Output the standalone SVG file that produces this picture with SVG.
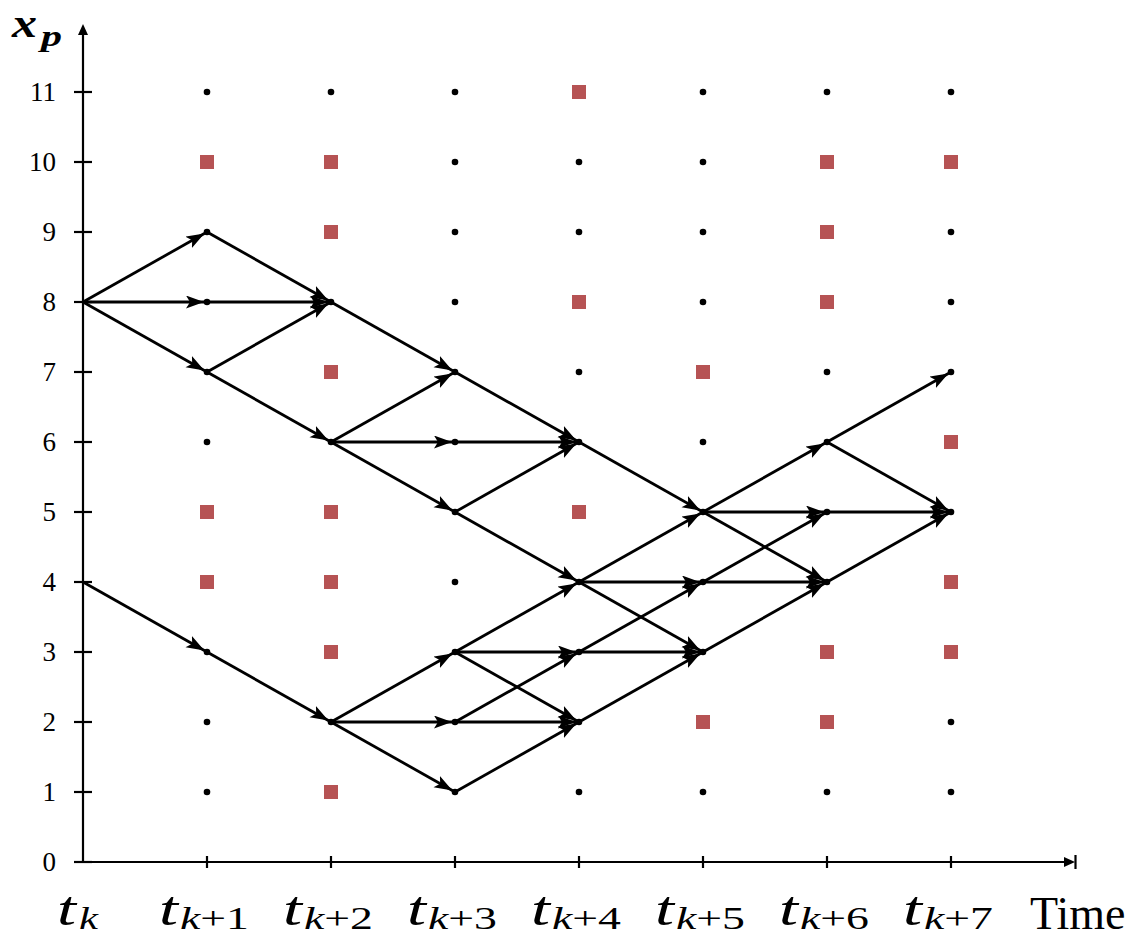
<svg xmlns="http://www.w3.org/2000/svg" width="1143" height="941" viewBox="0 0 1143 941">
<style>
.ax{stroke:#000;stroke-width:2.2;fill:none}
.e{stroke:#000;stroke-width:2.8;fill:none;marker-end:url(#ah)}
.d{fill:#000}
.o{fill:#b65354}
.yl{font-family:"Liberation Serif",serif;font-size:27px;text-anchor:end;fill:#000}
.tm{font-family:"Liberation Serif",serif;font-style:italic;font-size:49px;fill:#000}
.ts{font-family:"Liberation Serif",serif;font-style:italic;font-size:31px;fill:#000}
.tn{font-family:"Liberation Serif",serif;font-style:normal}
</style>
<defs>
<marker id="ah" markerUnits="userSpaceOnUse" markerWidth="24" markerHeight="16" refX="21" refY="6.5" orient="auto">
<path d="M0,0 L18,6.5 L0,13 L4,6.5 Z" fill="#000"/>
</marker>
</defs>
<g id="axes">
<line class="ax" x1="83" y1="862" x2="83" y2="32"/>
<path d="M83,24 L88,35 L78,35 Z" fill="#000"/>
<line class="ax" x1="83" y1="862" x2="1068" y2="862"/>
<path d="M1075,862 L1064,857 L1064,867 Z" fill="#000"/>
<line class="ax" x1="1075.5" y1="855" x2="1075.5" y2="869"/>
<g id="yticks" stroke="#000" stroke-width="2.2">
<line x1="74" y1="862" x2="92" y2="862"/><line x1="74" y1="792" x2="92" y2="792"/><line x1="74" y1="722" x2="92" y2="722"/><line x1="74" y1="652" x2="92" y2="652"/><line x1="74" y1="582" x2="92" y2="582"/><line x1="74" y1="512" x2="92" y2="512"/><line x1="74" y1="442" x2="92" y2="442"/><line x1="74" y1="372" x2="92" y2="372"/><line x1="74" y1="302" x2="92" y2="302"/><line x1="74" y1="232" x2="92" y2="232"/><line x1="74" y1="162" x2="92" y2="162"/><line x1="74" y1="92" x2="92" y2="92"/>
</g>
<g id="xticks" stroke="#000" stroke-width="2.2">
<line x1="207" y1="856" x2="207" y2="868"/><line x1="331" y1="856" x2="331" y2="868"/><line x1="455" y1="856" x2="455" y2="868"/><line x1="579" y1="856" x2="579" y2="868"/><line x1="703" y1="856" x2="703" y2="868"/><line x1="827" y1="856" x2="827" y2="868"/><line x1="951" y1="856" x2="951" y2="868"/>
</g>
<g id="ylabels">
<text class="yl" x="56" y="871">0</text><text class="yl" x="56" y="801">1</text><text class="yl" x="56" y="731">2</text><text class="yl" x="56" y="661">3</text><text class="yl" x="56" y="591">4</text><text class="yl" x="56" y="521">5</text><text class="yl" x="56" y="451">6</text><text class="yl" x="56" y="381">7</text><text class="yl" x="56" y="311">8</text><text class="yl" x="56" y="241">9</text><text class="yl" x="56" y="171">10</text><text class="yl" x="56" y="101">11</text>
</g>
<g id="ytitle">
<text x="12" y="37" font-family="Liberation Serif, serif" font-style="italic" font-weight="bold" font-size="42" textLength="25" lengthAdjust="spacingAndGlyphs">x</text>
<text x="41" y="46" font-family="Liberation Serif, serif" font-style="italic" font-weight="bold" font-size="30" textLength="21" lengthAdjust="spacingAndGlyphs">p</text>
</g>
<g id="xlabels">
<text class="tm" x="57" y="925" textLength="19" lengthAdjust="spacingAndGlyphs">t</text><text class="ts" x="79" y="929" textLength="19" lengthAdjust="spacingAndGlyphs">k</text>
<text class="tm" x="159" y="925" textLength="19" lengthAdjust="spacingAndGlyphs">t</text><text class="ts" x="180" y="929" textLength="69" lengthAdjust="spacingAndGlyphs">k<tspan class="tn">+1</tspan></text>
<text class="tm" x="283" y="925" textLength="19" lengthAdjust="spacingAndGlyphs">t</text><text class="ts" x="304" y="929" textLength="69" lengthAdjust="spacingAndGlyphs">k<tspan class="tn">+2</tspan></text>
<text class="tm" x="407" y="925" textLength="19" lengthAdjust="spacingAndGlyphs">t</text><text class="ts" x="428" y="929" textLength="69" lengthAdjust="spacingAndGlyphs">k<tspan class="tn">+3</tspan></text>
<text class="tm" x="531" y="925" textLength="19" lengthAdjust="spacingAndGlyphs">t</text><text class="ts" x="552" y="929" textLength="69" lengthAdjust="spacingAndGlyphs">k<tspan class="tn">+4</tspan></text>
<text class="tm" x="655" y="925" textLength="19" lengthAdjust="spacingAndGlyphs">t</text><text class="ts" x="676" y="929" textLength="69" lengthAdjust="spacingAndGlyphs">k<tspan class="tn">+5</tspan></text>
<text class="tm" x="779" y="925" textLength="19" lengthAdjust="spacingAndGlyphs">t</text><text class="ts" x="800" y="929" textLength="69" lengthAdjust="spacingAndGlyphs">k<tspan class="tn">+6</tspan></text>
<text class="tm" x="903" y="925" textLength="19" lengthAdjust="spacingAndGlyphs">t</text><text class="ts" x="924" y="929" textLength="69" lengthAdjust="spacingAndGlyphs">k<tspan class="tn">+7</tspan></text>
<text x="1030" y="929" font-family="Liberation Serif, serif" font-size="46">Time</text>
</g>
</g>
<g id="connectors">
<line class="e" x1="83" y1="302" x2="207" y2="232"/>
<line class="e" x1="83" y1="302" x2="207" y2="302"/>
<line class="e" x1="83" y1="302" x2="207" y2="372"/>
<line class="e" x1="207" y1="232" x2="331" y2="302"/>
<line class="e" x1="207" y1="302" x2="331" y2="302"/>
<line class="e" x1="207" y1="372" x2="331" y2="302"/>
<line class="e" x1="207" y1="372" x2="331" y2="442"/>
<line class="e" x1="331" y1="302" x2="455" y2="372"/>
<line class="e" x1="331" y1="442" x2="455" y2="372"/>
<line class="e" x1="331" y1="442" x2="455" y2="442"/>
<line class="e" x1="331" y1="442" x2="455" y2="512"/>
<line class="e" x1="455" y1="372" x2="579" y2="442"/>
<line class="e" x1="455" y1="442" x2="579" y2="442"/>
<line class="e" x1="455" y1="512" x2="579" y2="442"/>
<line class="e" x1="455" y1="512" x2="579" y2="582"/>
<line class="e" x1="579" y1="442" x2="703" y2="512"/>
<line class="e" x1="83" y1="582" x2="207" y2="652"/>
<line class="e" x1="207" y1="652" x2="331" y2="722"/>
<line class="e" x1="331" y1="722" x2="455" y2="652"/>
<line class="e" x1="331" y1="722" x2="455" y2="722"/>
<line class="e" x1="331" y1="722" x2="455" y2="792"/>
<line class="e" x1="455" y1="652" x2="579" y2="582"/>
<line class="e" x1="455" y1="652" x2="579" y2="652"/>
<line class="e" x1="455" y1="652" x2="579" y2="722"/>
<line class="e" x1="455" y1="722" x2="579" y2="652"/>
<line class="e" x1="455" y1="722" x2="579" y2="722"/>
<line class="e" x1="455" y1="792" x2="579" y2="722"/>
<line class="e" x1="579" y1="582" x2="703" y2="512"/>
<line class="e" x1="579" y1="582" x2="703" y2="582"/>
<line class="e" x1="579" y1="582" x2="703" y2="652"/>
<line class="e" x1="579" y1="652" x2="703" y2="582"/>
<line class="e" x1="579" y1="652" x2="703" y2="652"/>
<line class="e" x1="579" y1="722" x2="703" y2="652"/>
<line class="e" x1="703" y1="512" x2="827" y2="442"/>
<line class="e" x1="703" y1="512" x2="827" y2="512"/>
<line class="e" x1="703" y1="512" x2="827" y2="582"/>
<line class="e" x1="703" y1="582" x2="827" y2="512"/>
<line class="e" x1="703" y1="582" x2="827" y2="582"/>
<line class="e" x1="703" y1="652" x2="827" y2="582"/>
<line class="e" x1="827" y1="442" x2="951" y2="372"/>
<line class="e" x1="827" y1="442" x2="951" y2="512"/>
<line class="e" x1="827" y1="512" x2="951" y2="512"/>
<line class="e" x1="827" y1="582" x2="951" y2="512"/>
</g>
<g id="nodes">
<g id="c1">
<g id="n1_11"><circle class="d" cx="207" cy="92" r="3.3"/></g>
<g id="n1_10"><rect class="o" x="200" y="155" width="14" height="14"/></g>
<g id="n1_9"><circle class="d" cx="207" cy="232" r="3.3"/></g>
<g id="n1_8"><circle class="d" cx="207" cy="302" r="3.3"/></g>
<g id="n1_7"><circle class="d" cx="207" cy="372" r="3.3"/></g>
<g id="n1_6"><circle class="d" cx="207" cy="442" r="3.3"/></g>
<g id="n1_5"><rect class="o" x="200" y="505" width="14" height="14"/></g>
<g id="n1_4"><rect class="o" x="200" y="575" width="14" height="14"/></g>
<g id="n1_3"><circle class="d" cx="207" cy="652" r="3.3"/></g>
<g id="n1_2"><circle class="d" cx="207" cy="722" r="3.3"/></g>
<g id="n1_1"><circle class="d" cx="207" cy="792" r="3.3"/></g>
</g>
<g id="c2">
<g id="n2_11"><circle class="d" cx="331" cy="92" r="3.3"/></g>
<g id="n2_10"><rect class="o" x="324" y="155" width="14" height="14"/></g>
<g id="n2_9"><rect class="o" x="324" y="225" width="14" height="14"/></g>
<g id="n2_8"><circle class="d" cx="331" cy="302" r="3.3"/></g>
<g id="n2_7"><rect class="o" x="324" y="365" width="14" height="14"/></g>
<g id="n2_6"><circle class="d" cx="331" cy="442" r="3.3"/></g>
<g id="n2_5"><rect class="o" x="324" y="505" width="14" height="14"/></g>
<g id="n2_4"><rect class="o" x="324" y="575" width="14" height="14"/></g>
<g id="n2_3"><rect class="o" x="324" y="645" width="14" height="14"/></g>
<g id="n2_2"><circle class="d" cx="331" cy="722" r="3.3"/></g>
<g id="n2_1"><rect class="o" x="324" y="785" width="14" height="14"/></g>
</g>
<g id="c3">
<g id="n3_11"><circle class="d" cx="455" cy="92" r="3.3"/></g>
<g id="n3_10"><circle class="d" cx="455" cy="162" r="3.3"/></g>
<g id="n3_9"><circle class="d" cx="455" cy="232" r="3.3"/></g>
<g id="n3_8"><circle class="d" cx="455" cy="302" r="3.3"/></g>
<g id="n3_7"><circle class="d" cx="455" cy="372" r="3.3"/></g>
<g id="n3_6"><circle class="d" cx="455" cy="442" r="3.3"/></g>
<g id="n3_5"><circle class="d" cx="455" cy="512" r="3.3"/></g>
<g id="n3_4"><circle class="d" cx="455" cy="582" r="3.3"/></g>
<g id="n3_3"><circle class="d" cx="455" cy="652" r="3.3"/></g>
<g id="n3_2"><circle class="d" cx="455" cy="722" r="3.3"/></g>
<g id="n3_1"><circle class="d" cx="455" cy="792" r="3.3"/></g>
</g>
<g id="c4">
<g id="n4_11"><rect class="o" x="572" y="85" width="14" height="14"/></g>
<g id="n4_10"><circle class="d" cx="579" cy="162" r="3.3"/></g>
<g id="n4_9"><circle class="d" cx="579" cy="232" r="3.3"/></g>
<g id="n4_8"><rect class="o" x="572" y="295" width="14" height="14"/></g>
<g id="n4_7"><circle class="d" cx="579" cy="372" r="3.3"/></g>
<g id="n4_6"><circle class="d" cx="579" cy="442" r="3.3"/></g>
<g id="n4_5"><rect class="o" x="572" y="505" width="14" height="14"/></g>
<g id="n4_4"><circle class="d" cx="579" cy="582" r="3.3"/></g>
<g id="n4_3"><circle class="d" cx="579" cy="652" r="3.3"/></g>
<g id="n4_2"><circle class="d" cx="579" cy="722" r="3.3"/></g>
<g id="n4_1"><circle class="d" cx="579" cy="792" r="3.3"/></g>
</g>
<g id="c5">
<g id="n5_11"><circle class="d" cx="703" cy="92" r="3.3"/></g>
<g id="n5_10"><circle class="d" cx="703" cy="162" r="3.3"/></g>
<g id="n5_9"><circle class="d" cx="703" cy="232" r="3.3"/></g>
<g id="n5_8"><circle class="d" cx="703" cy="302" r="3.3"/></g>
<g id="n5_7"><rect class="o" x="696" y="365" width="14" height="14"/></g>
<g id="n5_6"><circle class="d" cx="703" cy="442" r="3.3"/></g>
<g id="n5_5"><circle class="d" cx="703" cy="512" r="3.3"/></g>
<g id="n5_4"><circle class="d" cx="703" cy="582" r="3.3"/></g>
<g id="n5_3"><circle class="d" cx="703" cy="652" r="3.3"/></g>
<g id="n5_2"><rect class="o" x="696" y="715" width="14" height="14"/></g>
<g id="n5_1"><circle class="d" cx="703" cy="792" r="3.3"/></g>
</g>
<g id="c6">
<g id="n6_11"><circle class="d" cx="827" cy="92" r="3.3"/></g>
<g id="n6_10"><rect class="o" x="820" y="155" width="14" height="14"/></g>
<g id="n6_9"><rect class="o" x="820" y="225" width="14" height="14"/></g>
<g id="n6_8"><rect class="o" x="820" y="295" width="14" height="14"/></g>
<g id="n6_7"><circle class="d" cx="827" cy="372" r="3.3"/></g>
<g id="n6_6"><circle class="d" cx="827" cy="442" r="3.3"/></g>
<g id="n6_5"><circle class="d" cx="827" cy="512" r="3.3"/></g>
<g id="n6_4"><circle class="d" cx="827" cy="582" r="3.3"/></g>
<g id="n6_3"><rect class="o" x="820" y="645" width="14" height="14"/></g>
<g id="n6_2"><rect class="o" x="820" y="715" width="14" height="14"/></g>
<g id="n6_1"><circle class="d" cx="827" cy="792" r="3.3"/></g>
</g>
<g id="c7">
<g id="n7_11"><circle class="d" cx="951" cy="92" r="3.3"/></g>
<g id="n7_10"><rect class="o" x="944" y="155" width="14" height="14"/></g>
<g id="n7_9"><circle class="d" cx="951" cy="232" r="3.3"/></g>
<g id="n7_8"><circle class="d" cx="951" cy="302" r="3.3"/></g>
<g id="n7_7"><circle class="d" cx="951" cy="372" r="3.3"/></g>
<g id="n7_6"><rect class="o" x="944" y="435" width="14" height="14"/></g>
<g id="n7_5"><circle class="d" cx="951" cy="512" r="3.3"/></g>
<g id="n7_4"><rect class="o" x="944" y="575" width="14" height="14"/></g>
<g id="n7_3"><rect class="o" x="944" y="645" width="14" height="14"/></g>
<g id="n7_2"><circle class="d" cx="951" cy="722" r="3.3"/></g>
<g id="n7_1"><circle class="d" cx="951" cy="792" r="3.3"/></g>
</g>
</g>
</svg>
